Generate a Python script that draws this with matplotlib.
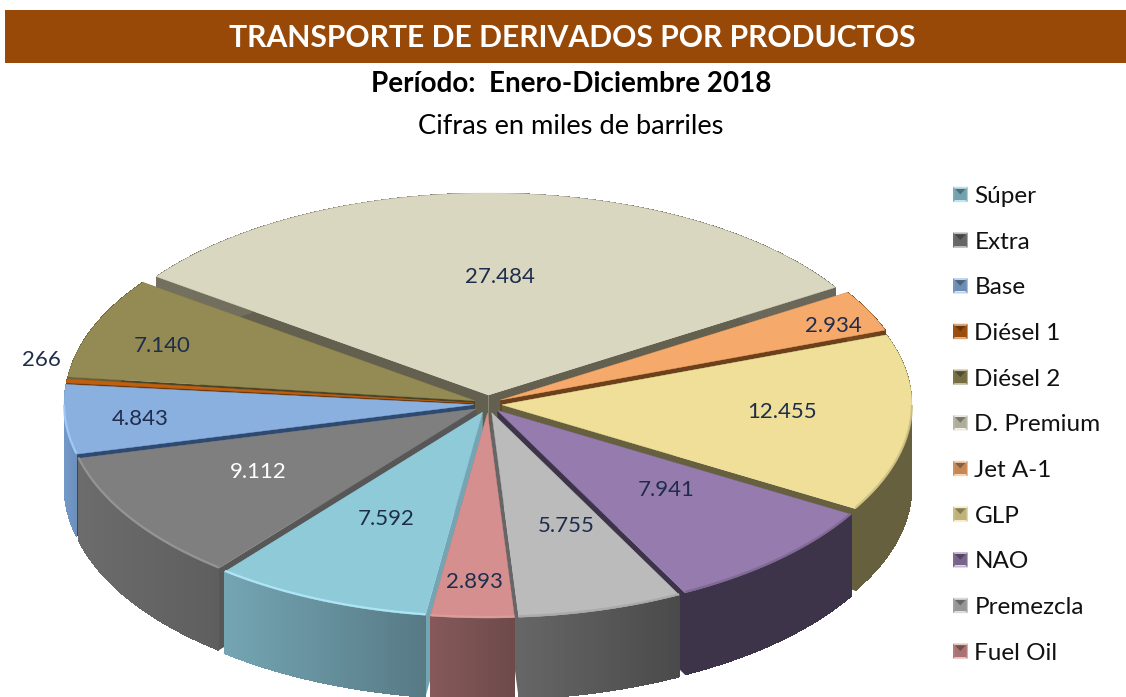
import numpy as np
import matplotlib
matplotlib.use("Agg")
import matplotlib.pyplot as plt
from matplotlib.patches import Polygon, Rectangle, Patch
from matplotlib.colors import to_rgb

products = ["Súper", "Extra", "Base", "Diésel 1", "Diésel 2", "D. Premium",
            "Jet A-1", "GLP", "NAO", "Premezcla", "Fuel Oil"]
volumes = [7592, 9112, 4843, 266, 7140, 27484, 2934, 12455, 7941, 5755, 2893]
top_colors = ["#8FCAD9", "#7F7F7F", "#8AB0DF", "#C0600F", "#948A54", "#D9D7C0",
              "#F5A96B", "#EFDF99", "#967CAE", "#BBBBBB", "#D58F8F"]
wall_left = ["#74A5B3", "#6C6C6C", "#7399C8", "#8A4510", "#6A6340", "#73705F",
             "#7A4A20", "#66603F", "#3E344A", "#666666", "#865959"]
wall_right = ["#577A85", "#5E5E5E", "#6C90BC", "#7A3C0C", "#5F5935", "#6A675A",
              "#6C401A", "#66603F", "#3E344A", "#4A4A4A", "#6D4A4A"]
radial_colors = ["#74A5B3", "#575757", "#2F4A70", "#6A3A10", "#4A4528", "#63604F",
                 "#6C401A", "#66603F", "#3E344A", "#666666", "#865959"]
rim_colors = ["#B5EDFB", "#9A9A9A", "#A6D0FF", "#D07020", "#A89E68", "#E8E6D2",
              "#FFC080", "#C9BC80", "#7C6690", "#A8A8A8", "#E0A0A0"]
label_colors = ["#1F2D4D", "#FFFFFF"] + ["#1F2D4D"] * 9

fig = plt.figure(figsize=(11.26, 6.97), dpi=100)
ax = fig.add_axes([0, 0, 1, 1])
ax.set_xlim(0, 1126)
ax.set_ylim(697, 0)
ax.axis("off")
plt.rcParams["font.family"] = ["Lato", "DejaVu Sans"]

# Header
ax.add_patch(Rectangle((5, 10), 1121, 53, fc="#984807", ec="none"))
ax.text(572, 38, "TRANSPORTE DE DERIVADOS POR PRODUCTOS", color="white",
        fontsize=21.7, fontweight="bold", ha="center", va="center")
ax.text(571, 84, "Período:  Enero-Diciembre 2018", color="black",
        fontsize=20, fontweight="bold", ha="center", va="center")
ax.text(571, 126, "Cifras en miles de barriles", color="black",
        fontsize=19.6, ha="center", va="center")

# Pie geometry
cx, cy = 488, 404
rx, ry_front, ry_back = 410, 205, 202
ex, ey = 14, 9
depth = 82
start = np.radians(8)

vals = np.array(volumes, dtype=float)
fracs = vals / vals.sum() * 2 * np.pi
edges = start + np.concatenate([[0], np.cumsum(fracs)])


def arc_points(a0, a1, apex):
    t = np.linspace(a0, a1, max(int(np.degrees(a1 - a0) * 2), 2) + 1)
    ry = np.where(np.cos(t) > 0, ry_front, ry_back)
    return np.column_stack([apex[0] - rx * np.sin(t), apex[1] + ry * np.cos(t)])


mids = (edges[:-1] + edges[1:]) / 2
order = np.argsort(np.cos(mids))

for i in order:
    a0, a1 = edges[i], edges[i + 1]
    mid = mids[i]
    apex = np.array([cx - ex * np.sin(mid), cy + ey * np.cos(mid)])
    arc = arc_points(a0, a1, apex)
    c_l, c_r = np.array(to_rgb(wall_left[i])), np.array(to_rgb(wall_right[i]))
    down = np.array([0, depth])
    # radial walls
    for e in (arc[0], arc[-1]):
        ax.add_patch(Polygon([apex, e, e + down, apex + down],
                             fc=radial_colors[i], ec="none", zorder=2))
    # outer wall: a smooth silhouette, then a horizontal gradient in solid strips
    ax.add_patch(Polygon(np.vstack([arc, (arc + down)[::-1]]), fc=c_l * 0.5 + c_r * 0.5,
                         ec="none", zorder=2))
    xs = arc[:, 0]
    xmin, xmax = xs.min(), xs.max()
    for k in range(len(arc) - 1):
        p, q = arc[k], arc[k + 1]
        f = ((p[0] + q[0]) / 2 - xmin) / max(xmax - xmin, 1)
        col = c_l + (c_r - c_l) * f
        ax.add_patch(Polygon([p, q, q + down, p + down], fc=col, ec="none",
                             antialiased=False, zorder=2))
    # top face
    ax.add_patch(Polygon(np.vstack([apex, arc]), closed=True, fc=top_colors[i],
                         ec=top_colors[i], lw=0.3, zorder=2))
    # soft bevel along the outer rim
    front = np.cos(np.linspace(a0, a1, len(arc))) > 0
    if front.any():
        ax.plot(arc[front, 0], arc[front, 1] - 1, color=rim_colors[i], lw=1.6,
                alpha=0.8, solid_capstyle="butt", zorder=2)

# Value labels
label_xy = [(386, 519), (258, 472), (140, 419), (41, 360), (162, 346), (500, 277),
            (833, 326), (782, 412), (666, 490), (566, 526), (474, 582)]
for v, (lx, ly), col in zip(volumes, label_xy, label_colors):
    ax.text(lx, ly, f"{v:,}".replace(",", "."), color=col, fontsize=16,
            ha="center", va="center", zorder=5)


# Legend with bevelled keys
class BevelHandler:
    def legend_artist(self, legend, orig, fontsize, handlebox):
        x0, y0 = -handlebox.xdescent, -handlebox.ydescent
        w, h = handlebox.width, handlebox.height
        tr = handlebox.get_transform()
        base = np.array(orig.get_facecolor()[:3])
        light = base + (1 - base) * 0.45
        b = w * 0.14
        sq = [(x0, y0), (x0 + w, y0), (x0 + w, y0 + h), (x0, y0 + h)]
        inner = [(x0 + b, y0 + b), (x0 + w - b, y0 + b),
                 (x0 + w - b, y0 + h - b), (x0 + b, y0 + h - b)]
        shades = [light, base * 0.85, light, base * 0.85]
        for k in range(4):
            handlebox.add_artist(Polygon([sq[k], sq[(k + 1) % 4], inner[(k + 1) % 4], inner[k]],
                                         fc=shades[k], ec="none", transform=tr))
        handlebox.add_artist(Polygon(inner, fc=base * 0.8, ec="none", transform=tr))
        notch = [(x0 + b, y0 + h - b), (x0 + w - b, y0 + h - b), (x0 + w / 2, y0 + h / 2)]
        handlebox.add_artist(Polygon(notch, fc=base * 0.55, ec="none", transform=tr))
        return handlebox


handles = [Patch(facecolor=c) for c in top_colors]
ax.legend(handles, products, loc="upper left", bbox_to_anchor=(953 / 1126, 1 - 186 / 697),
          bbox_transform=fig.transFigure, frameon=False, fontsize=17.5,
          handler_map={Patch: BevelHandler()}, handlelength=0.6, handleheight=0.6,
          handletextpad=0.28, labelspacing=1.015, borderpad=0, borderaxespad=0,
          labelcolor="#111111")

fig.savefig("out.png", dpi=100)
